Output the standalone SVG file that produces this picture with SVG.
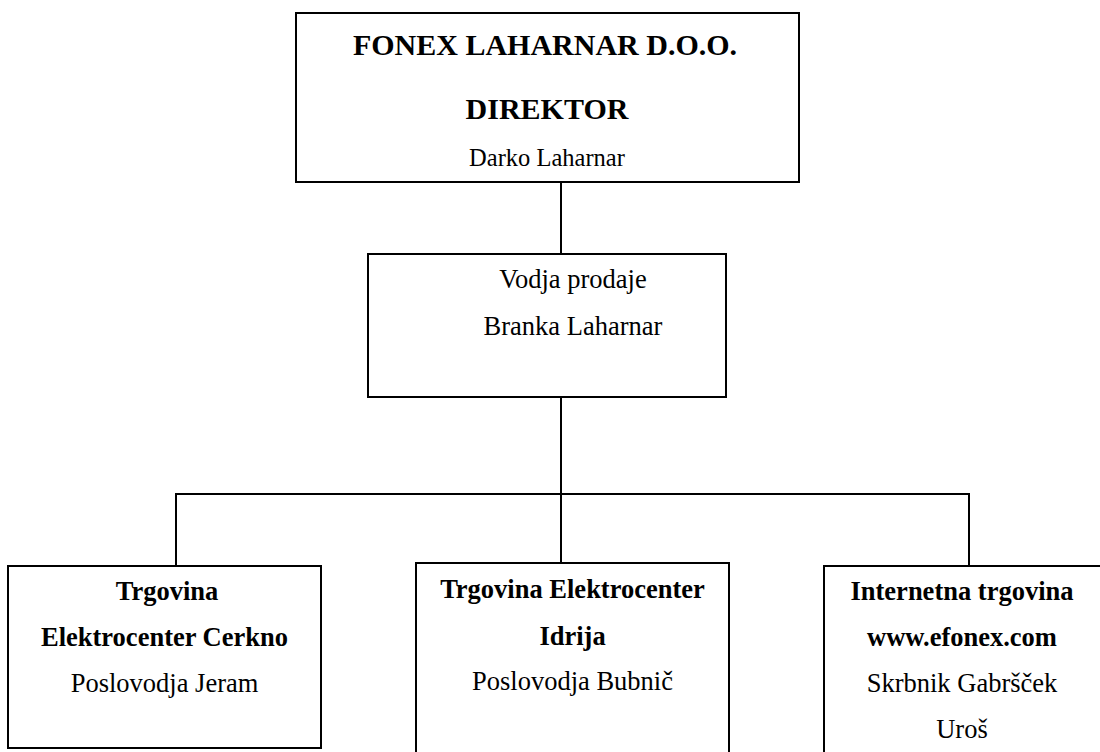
<svg xmlns="http://www.w3.org/2000/svg" width="1100" height="752" viewBox="0 0 1100 752">
<style>
.box{fill:#fff;stroke:#000;stroke-width:2}
.ln{stroke:#000;stroke-width:2;fill:none}
text{font-family:"Liberation Serif","Times New Roman",Times,serif;fill:#000;text-anchor:middle}
.b{font-weight:bold;font-size:26.5px}
.r{font-size:26.5px}
.t{font-weight:bold;font-size:30px}
.s{font-size:24.5px}
</style>
<rect width="1100" height="752" fill="#fff"/>
<g id="connectors">
<line class="ln" x1="561" y1="182" x2="561" y2="254"/>
<line class="ln" x1="561" y1="397" x2="561" y2="563"/>
<line class="ln" x1="176" y1="494" x2="969" y2="494"/>
<line class="ln" x1="176" y1="493" x2="176" y2="566"/>
<line class="ln" x1="969" y1="493" x2="969" y2="566"/>
</g>
<g id="director">
<rect class="box" x="296" y="13" width="503" height="169"/>
<text class="t" x="545" y="55">FONEX LAHARNAR D.O.O.</text>
<text class="t" x="547" y="119">DIREKTOR</text>
<text class="s" x="547" y="166">Darko Laharnar</text>
</g>
<g id="sales">
<rect class="box" x="368" y="254" width="358" height="143"/>
<text class="r" x="573" y="288">Vodja prodaje</text>
<text class="r" x="573" y="335">Branka Laharnar</text>
</g>
<g id="cerkno">
<rect class="box" x="8" y="566" width="313" height="182"/>
<text class="b" x="167" y="600">Trgovina</text>
<text class="b" x="164.5" y="646">Elektrocenter Cerkno</text>
<text class="r" x="164.5" y="692">Poslovodja Jeram</text>
</g>
<g id="idrija">
<rect class="box" x="416" y="563" width="313" height="200"/>
<text class="b" x="572.5" y="598">Trgovina Elektrocenter</text>
<text class="b" x="572.5" y="645">Idrija</text>
<text class="r" x="572.5" y="690">Poslovodja Bubnič</text>
</g>
<g id="internet">
<rect class="box" x="824" y="566" width="300" height="200"/>
<text class="b" x="962" y="600">Internetna trgovina</text>
<text class="b" x="962" y="646">www.efonex.com</text>
<text class="r" x="962" y="692">Skrbnik Gabršček</text>
<text class="r" x="962" y="738">Uroš</text>
</g>
</svg>
